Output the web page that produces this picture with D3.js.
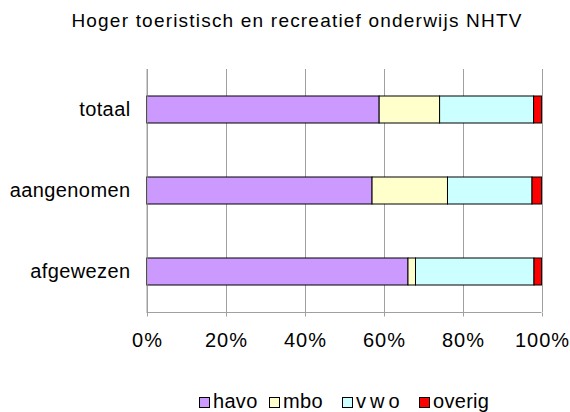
<!DOCTYPE html>
<html><head><meta charset="utf-8">
<script src="https://cdn.jsdelivr.net/npm/d3@7"></script>
<style>body{margin:0;background:#fff}svg{display:block}text{font-family:Arial,"Liberation Sans",sans-serif;fill:#000}</style>
</head><body>
<script>
const title = "Hoger toeristisch en recreatief onderwijs NHTV";
const categories = ["totaal", "aangenomen", "afgewezen"];
const seriesNames = ["havo", "mbo", "vwo", "overig"];
const legendLabels = ["havo", "mbo", "vwo", "overig"];
const colors = ["#cc99ff", "#ffffcc", "#ccffff", "#ff0000"];
const havo = [58.9, 57.1, 66.2];
const mbo = [15.3, 19.1, 1.9];
const vwo = [23.8, 21.4, 30.0];
const overig = [2.0, 2.4, 1.9];
const tickValues = [0, 0.2, 0.4, 0.6, 0.8, 1.0];

const W = 570, H = 412;
const svg = d3.select("body").append("svg").attr("width", W).attr("height", H);
const pLeft = 146.5, pRight = 541.5, pTop = 69, pBottom = 312;

const rows = categories.map((c, i) => ({cat: c, havo: havo[i], mbo: mbo[i], vwo: vwo[i], overig: overig[i]}));
rows.forEach(r => { const t = r.havo + r.mbo + r.vwo + r.overig; seriesNames.forEach(k => r[k] = r[k] / t); });
const stack = d3.stack().keys(seriesNames)(rows);

const x = d3.scaleLinear().domain([0, 1]).range([pLeft, pRight]);
const y = d3.scaleBand().domain(categories).range([pTop, pBottom]).paddingInner(2/3).paddingOuter(1/3);

// gridlines
svg.append("g").selectAll("line").data(tickValues).join("line")
  .attr("x1", d => Math.round(x(d)) + 0.5).attr("x2", d => Math.round(x(d)) + 0.5)
  .attr("y1", pTop).attr("y2", pBottom)
  .attr("stroke", "#a0a0a0").attr("stroke-width", 1);

// x axis
const xAxis = d3.axisBottom(x).tickValues(tickValues).tickFormat(d3.format(".0%")).tickSize(4).tickSizeOuter(0);
const gx = svg.append("g").attr("transform", `translate(0.5,${pBottom + 0.5})`).call(xAxis);
gx.select(".domain").attr("stroke", "#a0a0a0").attr("d", `M${pLeft - 0.5},0H${pRight - 0.5}`);
gx.selectAll(".tick line").attr("stroke", "#a0a0a0");
gx.selectAll(".tick text").attr("font-size", 20).attr("dy", 0).attr("y", 34).attr("letter-spacing", 1)
  .attr("font-family", "Arial, 'Liberation Sans', sans-serif").attr("fill", "#000");

// bars
svg.append("g").selectAll("g").data(stack).join("g")
  .attr("fill", (d, i) => colors[i])
  .selectAll("rect").data(d => d).join("rect")
  .attr("x", d => x(d[0])).attr("width", d => x(d[1]) - x(d[0]))
  .attr("y", d => y(d.data.cat)).attr("height", y.bandwidth())
  .attr("stroke", "#000").attr("stroke-width", 1);

// y axis
const yAxis = d3.axisLeft(y).tickSize(0).tickPadding(0);
const gy = svg.append("g").attr("transform", `translate(${pLeft},0)`).call(yAxis);
gy.select(".domain").attr("stroke", "#a0a0a0").attr("d", `M0.5,${pTop}V${pBottom}`);
gy.selectAll(".tick text").attr("font-size", 20).attr("x", -16).attr("dy", "0.32em").attr("letter-spacing", 0.4)
  .attr("font-family", "Arial, 'Liberation Sans', sans-serif").attr("fill", "#000");

// title
svg.append("text").attr("x", 297).attr("y", 27).attr("text-anchor", "middle")
  .attr("font-size", 19).attr("letter-spacing", 1.2).text(title);

// legend
const legendX = [199.5, 269.5, 342.5, 419.5];
const lg = svg.append("g");
seriesNames.forEach((s, i) => {
  lg.append("rect").attr("x", legendX[i]).attr("y", 397.5).attr("width", 10).attr("height", 10)
    .attr("fill", colors[i]).attr("stroke", "#000").attr("stroke-width", 1);
  lg.append("text").attr("x", legendX[i] + 13.5).attr("y", 407.5).attr("font-size", 20)
    .attr("letter-spacing", i === 2 ? 4 : 0.3).text(legendLabels[i]);
});
</script>
</body></html>
